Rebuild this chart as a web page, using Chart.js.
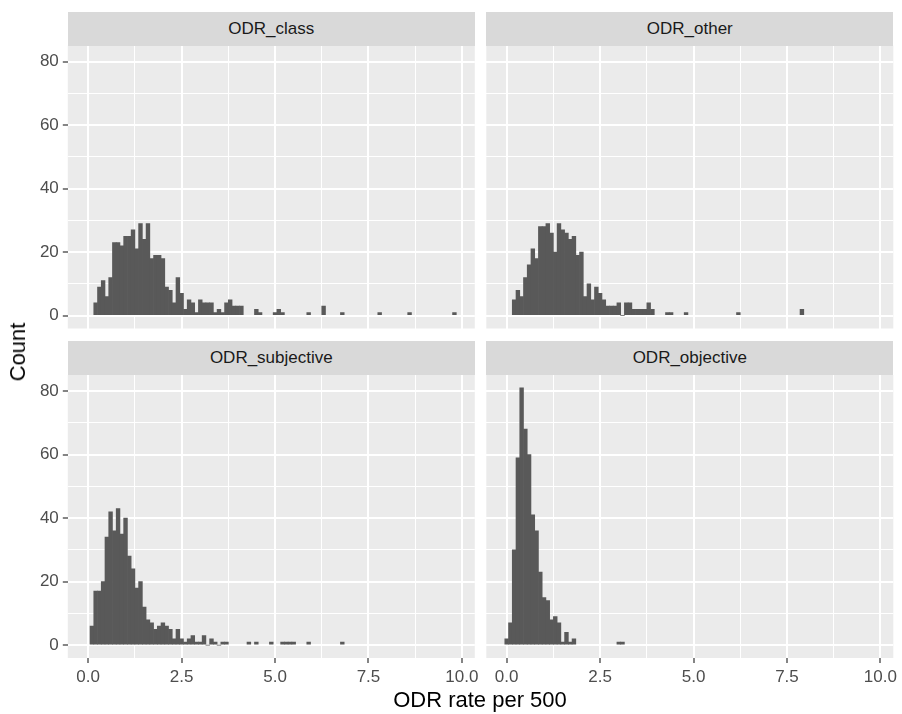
<!DOCTYPE html>
<html>
<head>
<meta charset="utf-8">
<script src="https://cdn.jsdelivr.net/npm/chart.js@4.4.1/dist/chart.umd.min.js"></script>
<style>
  body { margin: 0; background: #fff; font-family: "Liberation Sans", Arial, sans-serif; }
  #wrap { position: relative; width: 902px; height: 714px; overflow: hidden; }
  canvas { position: absolute; left: 0; top: 0; }
  .strip { position: absolute; background: #d9d9d9; color: #1a1a1a; font-size: 17px; text-align: center; height: 34px; line-height: 34px; }
  .title { position: absolute; color: #000; font-size: 22px; white-space: nowrap; }
</style>
</head>
<body>
<div id="wrap">
  <canvas id="c1" width="902" height="714"></canvas>
  <canvas id="c2" width="902" height="714"></canvas>
  <canvas id="c3" width="902" height="714"></canvas>
  <canvas id="c4" width="902" height="714"></canvas>
  <div class="strip" style="left:67.8px;top:11.5px;width:407px;">ODR_class</div>
  <div class="strip" style="left:486.3px;top:11.5px;width:407px;">ODR_other</div>
  <div class="strip" style="left:67.8px;top:341px;width:407px;">ODR_subjective</div>
  <div class="strip" style="left:486.3px;top:341px;width:407px;">ODR_objective</div>
  <div class="title" id="ytitle" style="left:18px;top:352px;transform:translate(-50%,-50%) rotate(-90deg);">Count</div>
  <div class="title" id="xtitle" style="left:480px;top:700px;transform:translate(-50%,-50%);">ODR rate per 500</div>
</div>
<script>
// histogram bins are 0.1 wide; each facet lists its counts from the first bin on,
// plus a few scattered bins in the long tail
const binWidth = 0.1;

const classStart = 0.2;
const classCounts = [4, 9, 11, 6, 12, 23, 23, 22, 25, 25, 27, 21, 29, 24, 29, 18, 19, 19, 18, 9,
  8, 4, 12, 7, 2, 5, 4, 1, 5, 4, 4, 4, 1, 2, 1, 4, 5, 3, 3, 3];
const classTailX = [4.5, 4.6, 5.0, 5.1, 5.2, 5.9, 6.3, 6.8, 7.8, 8.6, 9.8];
const classTailY = [2, 1, 1, 2, 1, 1, 3, 1, 1, 1, 1];

const otherStart = 0.2;
const otherCounts = [5, 8, 6, 12, 16, 21, 18, 28, 28, 29, 26, 20, 29, 27, 26, 24, 25, 19, 20, 6,
  10, 5, 9, 7, 5, 3, 3, 3, 4, 0, 4, 4, 2, 2, 2, 2, 4, 2];
const otherTailX = [4.3, 4.4, 4.8, 6.2, 7.9];
const otherTailY = [1, 1, 1, 1, 2];

const subjStart = 0.1;
const subjCounts = [6, 17, 17, 20, 34, 42, 36, 43, 35, 40, 28, 24, 18, 20, 12, 8, 7, 5, 6, 7,
  6, 5, 2, 5, 2, 1, 2, 3, 1, 1, 3, 0, 2, 1, 0, 1, 1];
const subjTailX = [4.3, 4.5, 4.9, 5.2, 5.3, 5.4, 5.5, 5.9, 6.8];
const subjTailY = [1, 1, 1, 1, 1, 1, 1, 1, 1];

const objStart = 0.0;
const objCounts = [2, 7, 30, 59, 81, 68, 60, 41, 36, 23, 15, 14, 8, 9, 7, 1, 4, 1, 2];
const objTailX = [3.0, 3.1];
const objTailY = [1, 1];

// axes (shared by all facets)
const xMajor = [0, 2.5, 5, 7.5, 10];
const xMinor = [1.25, 3.75, 6.25, 8.75];
const xLabels = ['0.0', '2.5', '5.0', '7.5', '10.0'];
const yMajor = [0, 20, 40, 60, 80];
const yMinor = [10, 30, 50, 70];
const yLabels = ['0', '20', '40', '60', '80'];
const xRange = [-0.545, 10.345];
const yRange = [-4.05, 85.05];

const W = 902, H = 714;
const Y_AXIS_W = 60;   // room for the y tick labels
const X_AXIS_H = 40;   // room for the x tick labels
const tickFont = { family: '"Liberation Sans", Arial, sans-serif', size: 17 };

function toPoints(start, counts, tailX, tailY) {
  const pts = counts.map((c, i) => ({ x: Math.round((start + i * binWidth) * 10) / 10, y: c }));
  tailX.forEach((x, i) => pts.push({ x: x, y: tailY[i] }));
  return pts;
}

const panelBg = {
  id: 'panelBg',
  beforeDraw(chart) {
    const a = chart.chartArea;
    chart.ctx.save();
    chart.ctx.fillStyle = '#ebebeb';
    chart.ctx.fillRect(a.left, a.top, a.right - a.left, a.bottom - a.top);
    chart.ctx.restore();
  }
};

function makeAxis(range, major, minor, labels, showLabels) {
  return {
    type: 'linear',
    min: range[0],
    max: range[1],
    offset: false,
    afterBuildTicks: (scale) => {
      scale.ticks = major.concat(minor).sort((a, b) => a - b).map(v => ({ value: v }));
    },
    afterFit: (scale) => {
      if (scale.isHorizontal()) scale.height = showLabels ? X_AXIS_H : 0;
      else scale.width = showLabels ? Y_AXIS_W : 0;
      scale.paddingLeft = scale.paddingRight = scale.paddingTop = scale.paddingBottom = 0;
    },
    border: { display: false },
    grid: {
      offset: false,
      color: '#ffffff',
      lineWidth: (ctx) => (ctx.tick && major.includes(ctx.tick.value)) ? 2 : 1,
      drawTicks: showLabels,
      tickLength: 5,
      tickWidth: 1.2,
      tickColor: (ctx) => (ctx.tick && major.includes(ctx.tick.value)) ? '#333333' : 'rgba(0,0,0,0)'
    },
    ticks: {
      display: showLabels,
      autoSkip: false,
      maxRotation: 0,
      minRotation: 0,
      padding: 4,
      color: '#4d4d4d',
      font: tickFont,
      callback: (value) => {
        const k = major.indexOf(value);
        return k >= 0 ? labels[k] : '';
      }
    }
  };
}

function makePanel(id, area, points, showX, showY) {
  const padLeft = area[0] - (showY ? Y_AXIS_W : 0);
  const padBottom = H - area[3] - (showX ? X_AXIS_H : 0);
  return new Chart(document.getElementById(id), {
    type: 'bar',
    data: {
      datasets: [{
        data: points,
        backgroundColor: '#595959',
        borderWidth: 0,
        barPercentage: 1,
        categoryPercentage: 1
      }]
    },
    options: {
      responsive: false,
      animation: false,
      devicePixelRatio: 1,
      layout: {
        padding: { left: padLeft, top: area[1], right: W - area[2], bottom: padBottom }
      },
      plugins: { legend: { display: false }, tooltip: { enabled: false } },
      scales: {
        x: makeAxis(xRange, xMajor, xMinor, xLabels, showX),
        y: makeAxis(yRange, yMajor, yMinor, yLabels, showY)
      }
    },
    plugins: [panelBg]
  });
}

makePanel('c1', [67.8, 45.5, 474.8, 328.5], toPoints(classStart, classCounts, classTailX, classTailY), false, true);
makePanel('c2', [486.3, 45.5, 893.3, 328.5], toPoints(otherStart, otherCounts, otherTailX, otherTailY), false, false);
makePanel('c3', [67.8, 375, 474.8, 658], toPoints(subjStart, subjCounts, subjTailX, subjTailY), true, true);
makePanel('c4', [486.3, 375, 893.3, 658], toPoints(objStart, objCounts, objTailX, objTailY), true, false);
</script>
</body>
</html>
